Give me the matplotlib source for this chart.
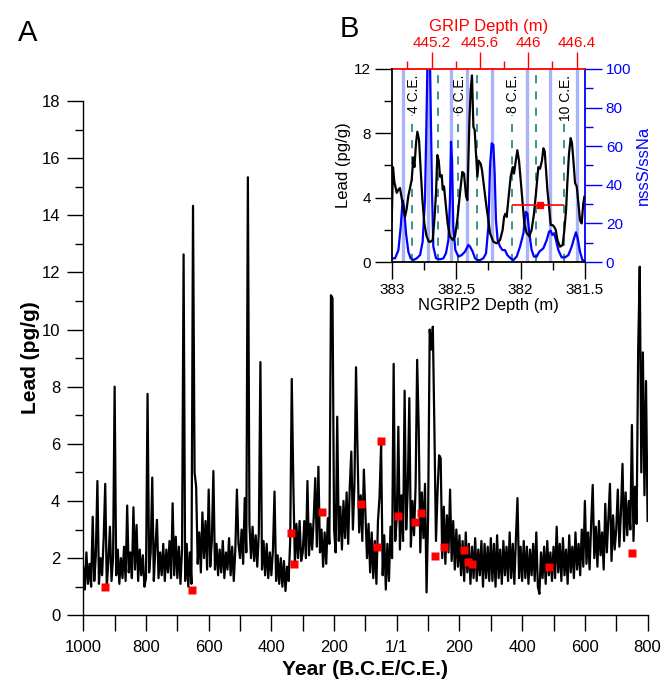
import numpy as np
import matplotlib
matplotlib.use('Agg')
from matplotlib import pyplot as plt
from matplotlib.ticker import MultipleLocator

plt.rcParams['font.family'] = ['Liberation Sans', 'DejaVu Sans']

# ---- panel A: lead record, 5-year steps, 1000 B.C.E. to 800 C.E. ----
years = np.arange(-1000, 801, 5)
lead = (
    [1.7, 0.9, 2.2, 1.1, 1.8, 1.0, 3.45, 1.2, 2.1, 4.7, 1.1, 2.0, 1.4, 2.7, 4.6, 1.0, 1.9, 3.1, 1.2, 2.0]
    + [8.0, 1.4, 2.3, 1.1, 2.0, 1.3, 2.4, 1.2, 3.84, 1.5, 2.2, 1.3, 3.78, 1.6, 3.16, 1.2, 2.3, 1.4, 2.1, 1.0]
    + [1.3, 7.75, 1.5, 2.2, 4.82, 1.2, 2.4, 3.34, 1.3, 2.2, 1.4, 2.5, 1.2, 2.3, 1.5, 2.6, 1.3, 3.92, 1.4, 2.75]
    + [1.3, 2.4, 1.1, 2.3, 12.63, 1.2, 2.5, 1.0, 2.2, 1.1, 14.33, 5.0, 4.5, 1.8, 2.9, 1.5, 3.6, 2.0, 3.3, 1.6]
    + [4.4, 1.7, 2.6, 5.05, 1.6, 2.5, 1.4, 2.3, 1.5, 2.6, 1.3, 2.2, 1.6, 2.7, 1.4, 2.4, 1.2, 2.3, 4.4, 2.5]
    + [2.0, 3.0, 1.8, 4.1, 2.2, 15.33, 3.2, 2.0, 3.1, 1.9, 2.8, 1.7, 2.9, 8.86, 1.6, 2.6, 1.4, 2.5, 1.3, 2.2]
    + [1.4, 2.3, 4.33, 1.2, 2.1, 1.1, 2.0, 1.0, 1.9, 0.85, 1.7, 1.2, 2.6, 8.27, 4.6, 1.8, 3.2, 2.0, 3.3, 1.9]
    + [2.2, 3.3, 2.0, 4.7, 2.1, 3.2, 2.3, 3.4, 4.8, 2.4, 5.2, 2.2, 3.0, 1.7, 2.9, 1.8, 3.4, 2.5, 11.2, 11.1]
    + [3.0, 2.2, 6.95, 2.6, 3.8, 2.3, 4.0, 2.7, 4.3, 2.5, 4.5, 5.73, 3.0, 4.6, 8.68, 5.6, 2.9, 4.2, 2.6, 5.1]
    + [3.6, 2.0, 3.2, 1.5, 2.9, 1.3, 2.6, 1.1, 3.3, 4.15, 6.0, 1.4, 2.8, 0.9, 2.5, 1.2, 3.1, 2.0, 8.8, 2.6]
    + [3.4, 6.6, 2.3, 4.2, 2.6, 7.86, 3.0, 4.4, 7.6, 2.4, 4.0, 2.8, 4.5, 8.94, 6.5, 2.2, 4.3, 2.7, 4.6, 0.8]
    + [3.5, 10.0, 9.3, 10.1, 6.5, 2.6, 4.3, 5.6, 5.5, 2.0, 3.8, 1.8, 3.5, 2.2, 4.4, 1.9, 3.3, 1.6, 3.0, 1.7]
    + [2.8, 1.4, 2.6, 1.2, 2.9, 1.5, 2.5, 1.1, 2.4, 1.3, 2.7, 1.2, 2.3, 1.4, 2.6, 1.0, 2.5, 1.3, 2.4, 1.2]
    + [2.7, 1.2, 2.5, 1.0, 2.8, 1.3, 2.3, 1.1, 2.6, 1.4, 2.4, 1.2, 2.9, 1.3, 2.5, 1.1, 2.7, 4.1, 1.3, 2.4]
    + [1.2, 2.6, 1.3, 2.4, 1.1, 2.3, 1.4, 2.5, 1.2, 2.9, 1.0, 0.75, 2.2, 1.3, 2.4, 1.1, 2.6, 1.4, 2.2, 1.2]
    + [2.4, 1.3, 3.1, 1.5, 2.5, 1.2, 2.7, 1.4, 2.3, 1.1, 2.8, 1.5, 2.4, 1.3, 2.9, 1.6, 2.5, 1.4, 3.0, 1.7]
    + [4.0, 1.8, 2.9, 1.6, 3.2, 4.56, 2.0, 3.1, 1.7, 3.3, 2.1, 2.9, 1.6, 3.9, 2.2, 3.4, 4.6, 1.9, 3.5, 2.3]
    + [3.0, 4.4, 2.4, 3.6, 5.3, 2.6, 4.3, 2.8, 4.0, 3.0, 6.66, 2.6, 4.5, 3.2, 9.3, 12.2, 5.0, 9.2, 4.2, 8.2]
    + [3.3]
)

# red squares (other records)
sq_years = [-931, -654, -337, -328, -239, -115, -64, -51, 3, 57, 78, 122, 150, 215, 228, 239, 487, 750]
sq_lead = [1.0, 0.89, 2.89, 1.8, 3.6, 3.9, 2.4, 6.1, 3.49, 3.28, 3.57, 2.09, 2.4, 2.29, 1.88, 1.79, 1.68, 2.19]

x_major = list(range(-1000, 801, 200))
x_labels = ['1000', '800', '600', '400', '200', '1/1', '200', '400', '600', '800']

# ---- panel B: inset, NGRIP2 depth ----
ng_depth = [383.000, 382.990, 382.980, 382.961, 382.948, 382.936, 382.923, 382.910, 382.897, 382.884,
            382.871, 382.845, 382.832, 382.824, 382.811, 382.801, 382.788, 382.775, 382.762, 382.747,
            382.729, 382.711, 382.698, 382.682, 382.669, 382.656, 382.646, 382.635, 382.625, 382.612,
            382.604, 382.594, 382.584, 382.566, 382.548, 382.527, 382.509, 382.491, 382.470, 382.452,
            382.439, 382.423, 382.413, 382.405, 382.397, 382.387, 382.377, 382.366, 382.356, 382.346,
            382.335, 382.325, 382.309, 382.299, 382.284, 382.268, 382.250, 382.237, 382.211, 382.185,
            382.159, 382.139, 382.128, 382.118, 382.108, 382.095, 382.077, 382.061, 382.051, 382.035,
            382.025, 382.012, 381.999, 381.984, 381.971, 381.953, 381.932, 381.914, 381.896, 381.880,
            381.862, 381.849, 381.834, 381.823, 381.813, 381.802, 381.792, 381.779, 381.766, 381.753,
            381.740, 381.727, 381.714, 381.694, 381.673, 381.660, 381.647, 381.637, 381.624, 381.611,
            381.601, 381.590, 381.577, 381.564, 381.551, 381.539, 381.526, 381.513, 381.505]
ng_lead = [2.5, 5.9, 5.0, 4.3, 4.5, 4.6, 4.0, 3.4, 2.8, 3.3,
           4.1, 5.1, 6.5, 5.9, 7.4, 8.1, 7.6, 5.7, 3.9, 2.4,
           1.6, 1.26, 1.26, 1.37, 2.6, 4.3, 6.65, 6.3, 5.3, 5.4,
           4.5, 4.7, 3.85, 2.4, 1.6, 1.37, 1.6, 2.6, 4.3, 5.6,
           5.5, 4.1, 3.85, 6.3, 8.8, 10.7, 11.6, 8.4, 8.2, 6.75,
           5.3, 6.3, 6.1, 5.7, 4.7, 3.65, 2.6, 1.8, 1.26, 1.16,
           1.37, 2.0, 2.8, 3.0, 2.8, 3.85, 5.3, 5.9, 5.5, 6.4,
           6.95, 6.3, 5.1, 3.65, 2.4, 1.8, 1.6, 2.0, 3.0, 4.3,
           5.9, 5.8, 6.3, 7.07, 6.9, 5.7, 4.5, 3.44, 2.3, 2.3,
           2.2, 2.0, 1.37, 0.95, 1.06, 2.0, 3.2, 4.9, 6.75, 7.7,
           7.4, 6.3, 4.9, 4.7, 3.65, 2.6, 2.4, 3.65, 4.05]

ss_depth = [383.000, 382.974, 382.948, 382.930, 382.915, 382.905, 382.889, 382.871, 382.853, 382.832,
            382.806, 382.780, 382.760, 382.742, 382.731, 382.721, 382.711, 382.703, 382.695, 382.687,
            382.677, 382.656, 382.625, 382.599, 382.579, 382.560, 382.548, 382.540, 382.532, 382.522,
            382.506, 382.483, 382.457, 382.431, 382.405, 382.392, 382.372, 382.353, 382.335, 382.315,
            382.289, 382.268, 382.250, 382.237, 382.224, 382.211, 382.201, 382.191, 382.178, 382.159,
            382.141, 382.121, 382.103, 382.077, 382.056, 382.030, 382.004, 381.978, 381.960, 381.947,
            381.932, 381.914, 381.896, 381.875, 381.854, 381.823, 381.797, 381.779, 381.766, 381.753,
            381.740, 381.725, 381.707, 381.681, 381.655, 381.629, 381.603, 381.585, 381.570, 381.557,
            381.539, 381.520, 381.502]
ss_ratio = [1.9, 1.9, 6.2, 18.3, 32, 28.7, 14.9, 5.4, 1.9, 1.0,
            1.9, 3.6, 10.5, 32, 70, 110, 125, 105, 70, 35.6,
            8, 1.9, 1.4, 1.9, 4.5, 11.4, 32, 62.3, 52.8, 18.3,
            6.2, 2.8, 3.6, 5.4, 8.8, 8.0, 5.4, 1.9, 1.0, 1.0,
            1.9, 4.5, 18.3, 49.4, 61.5, 60.6, 45.9, 21.8, 11.4, 8.0,
            6.2, 6.2, 3.6, 1.9, 1.0, 2.8, 8.0, 14.9, 26, 25.2,
            14.9, 6.2, 2.8, 2.8, 5.4, 7.1, 11.4, 15.7, 16.2, 14.0,
            14.9, 11.4, 6.2, 2.4, 2.4, 3.6, 8.0, 12.3, 15.4, 12.3,
            5.4, 1.0, 0.7]

summer_depths = [382.91, 382.72, 382.54, 382.415, 382.222, 381.952, 381.77, 381.564]
year_depths = [382.84, 382.64, 382.485, 382.34, 382.07, 381.88, 381.66]
year_names = ['4 C.E.', '', '6 C.E.', '', '8 C.E.', '', '10 C.E.']

grip_point_depth = 381.849
grip_point_lead = 3.54
grip_err_lo = 0.189
grip_err_hi = 0.22


def to_grip(n):
    return 444.87 + (383.0 - n) * (1.6 / 1.5)


def to_ngrip(g):
    return 383.0 - (g - 444.87) * (1.5 / 1.6)


fig = plt.figure(figsize=(6.61, 6.85), dpi=100)

# ---------------- panel A ----------------
ax = fig.add_axes([0.1260, 0.1018, 0.8537, 0.7508])
ax.set_zorder(0)
ax.plot(years, lead, color='black', lw=1.6, zorder=2)
ax.plot(sq_years, sq_lead, 's', color='red', ms=5.8, mec='none', zorder=3)
ax.set_xlim(-1000, 800)
ax.set_ylim(0, 18)
ax.spines['top'].set_visible(False)
ax.spines['right'].set_visible(False)
ax.set_xticks(x_major)
ax.set_xticklabels(x_labels)
ax.set_xticks(list(range(-900, 801, 200)), minor=True)
ax.set_yticks(list(range(0, 19, 2)))
ax.yaxis.set_minor_locator(MultipleLocator(1))
ax.tick_params(axis='x', which='both', direction='out', length=11.5, width=1.0, labelsize=12, pad=6)
ax.tick_params(axis='y', which='major', direction='out', length=11.5, width=1.0, labelsize=12, pad=5)
ax.tick_params(axis='y', which='minor', direction='out', length=5.8, width=1.0)
for s in ['left', 'bottom']:
    ax.spines[s].set_linewidth(1.0)
ax.set_xlabel('Year (B.C.E/C.E.)', fontsize=15, fontweight='bold', labelpad=4)
ax.set_ylabel('Lead (pg/g)', fontsize=15, fontweight='bold', labelpad=1)

fig.text(18 / 661, 1 - 41 / 685, 'A', fontsize=21, va='baseline')
fig.text(340 / 661, 1 - 37 / 685, 'B', fontsize=21, va='baseline')

# ---------------- panel B ----------------
ax_in = fig.add_axes([0.5926, 0.6175, 0.2924, 0.2818])
ax_r = ax_in.twinx()
ax_r.set_zorder(2)
ax_in.set_zorder(3)
ax_in.patch.set_visible(False)
ax_r.patch.set_facecolor('white')
ax_r.patch.set_visible(True)

for d in summer_depths:
    ax_r.axvline(d, color='#aab2fa', lw=2.4, zorder=1)
for d, nm in zip(year_depths, year_names):
    top = 76 if nm else 100
    ax_r.plot([d, d], [0, top], color='#2a8c82', lw=1.3, dashes=(4.5, 4.5), zorder=2)
    if nm:
        ax_r.text(d - 0.012, 97, nm, rotation=90, ha='center', va='top', fontsize=10, zorder=3)
ax_r.plot(ss_depth, ss_ratio, color='blue', lw=1.6, zorder=4)
ax_r.set_ylim(0, 100)
ax_r.set_yticks(list(range(0, 101, 20)))
ax_r.yaxis.set_minor_locator(MultipleLocator(10))
ax_r.tick_params(axis='y', which='major', colors='blue', length=12, width=1.0, labelsize=11, pad=3)
ax_r.tick_params(axis='y', which='minor', colors='blue', length=6, width=1.0)
ax_r.set_ylabel('nssS/ssNa', color='blue', fontsize=12, labelpad=3)
for s in ['left', 'top', 'bottom']:
    ax_r.spines[s].set_visible(False)
ax_r.spines['right'].set_color('blue')
ax_r.spines['right'].set_linewidth(1.3)

ax_in.plot(ng_depth, ng_lead, color='black', lw=1.6, zorder=3)
ax_in.errorbar([grip_point_depth], [grip_point_lead], xerr=[[grip_err_lo], [grip_err_hi]],
               fmt='s', color='red', ms=5, lw=1.2, capsize=0, zorder=4)
ax_in.set_xlim(383, 381.5)
ax_in.set_ylim(0, 12)
ax_in.set_xticks([383, 382.5, 382, 381.5])
ax_in.set_xticklabels(['383', '382.5', '382', '381.5'])
ax_in.set_xticks([382.75, 382.25, 381.75], minor=True)
ax_in.set_yticks([0, 4, 8, 12])
ax_in.set_yticks([2, 6, 10], minor=True)
ax_in.tick_params(axis='both', which='major', length=12, width=1.0, labelsize=11, pad=3)
ax_in.tick_params(axis='both', which='minor', length=6, width=1.0)
ax_in.spines['top'].set_visible(False)
ax_in.spines['right'].set_visible(False)
ax_in.spines['left'].set_linewidth(1.3)
ax_in.spines['bottom'].set_linewidth(1.3)
ax_in.set_xlabel('NGRIP2 Depth (m)', fontsize=12, labelpad=1)
ax_in.set_ylabel('Lead (pg/g)', fontsize=12, labelpad=2)

ax_top = ax_in.secondary_xaxis('top', functions=(to_grip, to_ngrip))
ax_top.set_xticks([445.2, 445.6, 446.0, 446.4])
ax_top.set_xticklabels(['445.2', '445.6', '446', '446.4'])
ax_top.set_xticks([445.0, 445.4, 445.8, 446.2], minor=True)
ax_top.tick_params(axis='x', which='major', colors='red', length=12, width=1.0, labelsize=11, pad=2)
ax_top.tick_params(axis='x', which='minor', colors='red', length=6, width=1.0)
ax_top.spines['top'].set_color('red')
ax_top.spines['top'].set_linewidth(1.3)
ax_top.set_xlabel('GRIP Depth (m)', color='red', fontsize=12, labelpad=3)

fig.savefig('out.png', dpi=100)
